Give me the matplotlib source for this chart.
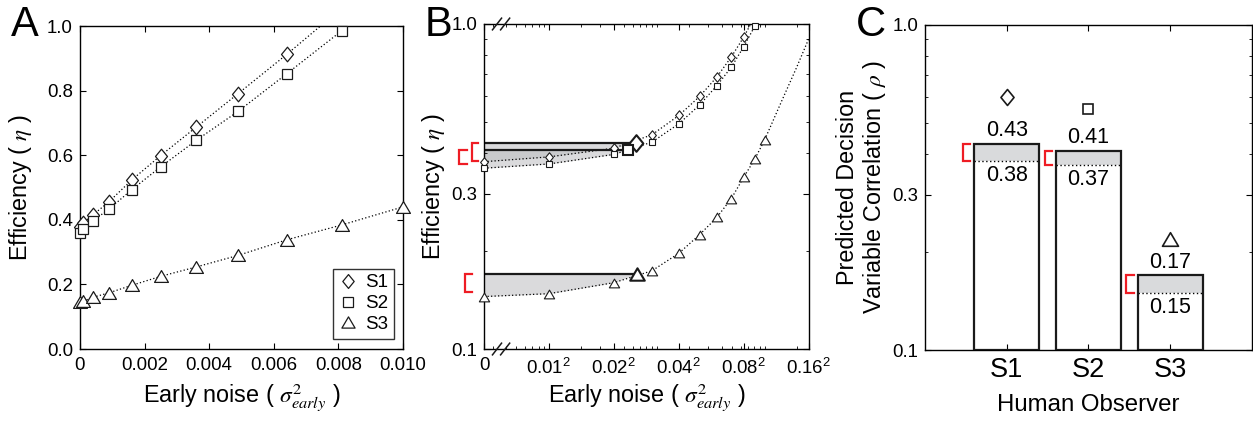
import numpy as np
import matplotlib
matplotlib.use('Agg')
import matplotlib.pyplot as plt
from matplotlib.path import Path
from matplotlib.lines import Line2D
from matplotlib.ticker import FixedLocator, FixedFormatter, NullFormatter
import matplotlib.transforms as mtransforms

# ---------------- data ----------------
observers = ['S1', 'S2', 'S3']
sigma_s1 = [0.00, 0.01, 0.02, 0.03, 0.04, 0.05, 0.06, 0.07, 0.08, 0.09]
eff_s1 = [0.377, 0.390, 0.415, 0.456, 0.523, 0.599, 0.687, 0.791, 0.912, 1.055]
sigma_s2 = [0.00, 0.01, 0.02, 0.03, 0.04, 0.05, 0.06, 0.07, 0.08, 0.09]
eff_s2 = [0.360, 0.371, 0.397, 0.433, 0.493, 0.564, 0.646, 0.736, 0.852, 0.985]
sigma_s3 = [0.00, 0.01, 0.02, 0.03, 0.04, 0.05, 0.06, 0.07, 0.08, 0.09, 0.10]
eff_s3 = [0.145, 0.148, 0.160, 0.174, 0.197, 0.225, 0.254, 0.290, 0.338, 0.384, 0.440]
sigma_s3_ext = [0.12, 0.14, 0.16]      # curve continuation (no markers) in panel B
eff_s3_ext = [0.58, 0.73, 0.90]

rho_high = [0.43, 0.41, 0.17]
rho_low = [0.38, 0.37, 0.15]
match_noise = [0.00064, 0.00054, 0.00065]
observed_rho = [0.60, 0.55, 0.22]

a_xticks = [0, 0.002, 0.004, 0.006, 0.008, 0.010]
a_xticklabels = ['0', '0.002', '0.004', '0.006', '0.008', '0.010']
a_yticks = [0.0, 0.2, 0.4, 0.6, 0.8, 1.0]
a_yticklabels = ['0.0', '0.2', '0.4', '0.6', '0.8', '1.0']
b_xtick_sigma = [0, 0.01, 0.02, 0.04, 0.08, 0.16]
b_xticklabels = ['0', r'0.01$^{\mathregular{2}}$', r'0.02$^{\mathregular{2}}$',
                 r'0.04$^{\mathregular{2}}$', r'0.08$^{\mathregular{2}}$',
                 r'0.16$^{\mathregular{2}}$']
log_yticks = [0.1, 0.3, 1.0]
log_yticklabels = ['0.1', '0.3', '1.0']

# ---------------- style ----------------
plt.rcParams['font.family'] = ['Liberation Sans', 'DejaVu Sans']
plt.rcParams['mathtext.fontset'] = 'stix'
plt.rcParams['axes.linewidth'] = 1.0
plt.rcParams['xtick.direction'] = 'in'
plt.rcParams['ytick.direction'] = 'in'
plt.rcParams['xtick.top'] = True
plt.rcParams['ytick.right'] = True
plt.rcParams['xtick.major.size'] = 4
plt.rcParams['ytick.major.size'] = 4
plt.rcParams['xtick.minor.size'] = 2.5
plt.rcParams['ytick.minor.size'] = 2.5
TICK_FS = 13.4
LABEL_FS = 16.8
plt.rcParams['xtick.labelsize'] = TICK_FS
plt.rcParams['ytick.labelsize'] = TICK_FS

DIAMOND = Path([(0, 1), (0.82, 0), (0, -1), (-0.82, 0), (0, 1)],
               [Path.MOVETO, Path.LINETO, Path.LINETO, Path.LINETO, Path.CLOSEPOLY])
TRIANGLE = Path([(-1, -0.85), (1, -0.85), (0, 0.85), (-1, -0.85)],
                [Path.MOVETO, Path.LINETO, Path.LINETO, Path.CLOSEPOLY])
markers = [DIAMOND, 's', TRIANGLE]
ms_a = [10.5, 7.2, 10.0]
ms_b = [6.8, 4.8, 7.4]
ms_b_big = [12.0, 7.4, 10.5]
ms_c = [11.5, 7.4, 11.5]
DOT = (0, (1.0, 1.8))
GRAY = '#bcbdc0'
RED = '#ee1c24'
EDGE = '#1a1a1a'

sigmas = [sigma_s1, sigma_s2, sigma_s3]
effs = [eff_s1, eff_s2, eff_s3]

fig = plt.figure(figsize=(12.53, 4.21), dpi=100)
axA = fig.add_axes([0.0638, 0.1710, 0.2578, 0.7672])
axB = fig.add_axes([0.3863, 0.1710, 0.2591, 0.7720])
axC = fig.add_axes([0.7382, 0.1675, 0.2610, 0.7743])

XLABEL = r'Early noise ( $\sigma^2_{early}$ )'

# ---------------- Panel A ----------------
for i in range(3):
    x = np.square(sigmas[i])
    y = np.asarray(effs[i])
    axA.plot(x, y, color='k', ls=DOT, lw=0.9, zorder=2)
    m = y <= 1.0
    axA.plot(x[m], y[m], ls='none', marker=markers[i], ms=ms_a[i], mfc='white',
             mec=EDGE, mew=0.9, clip_on=False, zorder=3)
axA.set_xlim(0, 0.010)
axA.set_ylim(0, 1.0)
axA.xaxis.set_major_locator(FixedLocator(a_xticks))
axA.xaxis.set_major_formatter(FixedFormatter(a_xticklabels))
axA.yaxis.set_major_locator(FixedLocator(a_yticks))
axA.yaxis.set_major_formatter(FixedFormatter(a_yticklabels))
axA.tick_params(axis='x', pad=6)
axA.tick_params(axis='y', pad=5)
axA.set_xlabel(XLABEL, fontsize=LABEL_FS)
axA.set_ylabel(r'Efficiency ( $\eta$ )', fontsize=LABEL_FS)
axA.xaxis.set_label_coords(0.5, -0.10)
axA.yaxis.set_label_coords(-0.142, 0.5)
handles = [Line2D([], [], ls='none', marker=markers[i], ms=ms_a[i] * 0.95, mfc='white',
                  mec=EDGE, mew=0.9) for i in range(3)]
leg = axA.legend(handles, observers, loc='lower right', bbox_to_anchor=(0.972, 0.032),
                 fontsize=13.5, frameon=True, fancybox=False, handlelength=1.0,
                 handletextpad=0.4, borderpad=0.3, labelspacing=0.2, borderaxespad=0)
leg.get_frame().set_edgecolor('k')
leg.get_frame().set_linewidth(1.0)

# ---------------- Panel B ----------------
X0 = 0.005 ** 2  # display position of zero noise


def fwd(x):
    return np.log10(np.maximum(x, X0))


def inv(y):
    return np.power(10.0, y)


axB.set_xscale('function', functions=(fwd, inv))
axB.set_yscale('log')
for i in range(3):
    x = np.square(sigmas[i])
    y = np.asarray(effs[i])
    xl, yl = x, y
    if i == 2:
        xl = np.concatenate([x, np.square(sigma_s3_ext)])
        yl = np.concatenate([y, eff_s3_ext])
    axB.plot(xl, yl, color='k', ls=DOT, lw=0.9, zorder=2)
    # shaded gap between matched efficiency and the curve
    sel = x < match_noise[i]
    fx = np.concatenate([x[sel], [match_noise[i]]])
    fy = np.concatenate([y[sel], [rho_high[i]]])
    axB.fill_between(fx, fy, rho_high[i], color=GRAY, alpha=0.55, lw=0, zorder=1)
    axB.plot([0, match_noise[i]], [rho_high[i], rho_high[i]], color=EDGE, lw=1.6,
             solid_capstyle='butt', zorder=2.5)
    m = y <= 1.0
    axB.plot(x[m], y[m], ls='none', marker=markers[i], ms=ms_b[i], mfc='white',
             mec=EDGE, mew=0.8, clip_on=False, zorder=3)
    axB.plot([match_noise[i]], [rho_high[i]], ls='none', marker=markers[i], ms=ms_b_big[i],
             mfc='white', mec=EDGE, mew=1.5, zorder=4)

axB.set_xlim(0, 0.16 ** 2)
axB.set_ylim(0.1, 1.0)
axB.xaxis.set_major_locator(FixedLocator(np.square(b_xtick_sigma)))
axB.xaxis.set_major_formatter(FixedFormatter(b_xticklabels))
minor_x = [k * 10.0 ** e for e in range(-5, -1) for k in range(1, 10)
           if X0 < k * 10.0 ** e < 0.16 ** 2]
axB.xaxis.set_minor_locator(FixedLocator(minor_x))
axB.xaxis.set_minor_formatter(NullFormatter())
axB.yaxis.set_major_locator(FixedLocator(log_yticks))
axB.yaxis.set_major_formatter(FixedFormatter(log_yticklabels))
axB.yaxis.set_minor_locator(FixedLocator([0.2, 0.4, 0.5, 0.6, 0.7, 0.8, 0.9]))
axB.yaxis.set_minor_formatter(NullFormatter())
axB.tick_params(axis='x', which='both', pad=6)
axB.tick_params(axis='y', pad=5)
axB.set_xlabel(XLABEL, fontsize=LABEL_FS)
axB.set_ylabel(r'Efficiency ( $\eta$ )', fontsize=LABEL_FS)
axB.xaxis.set_label_coords(0.5, -0.10)
axB.yaxis.set_label_coords(-0.114, 0.5)

# axis-break marks
for yb in (0.0, 1.0):
    for xb in (0.040, 0.065):
        axB.plot([xb - 0.014, xb + 0.014], [yb - 0.018, yb + 0.018], color=EDGE, lw=1.1,
                 transform=axB.transAxes, clip_on=False, zorder=5)

# red brackets (left of y axis)
tB = mtransforms.blended_transform_factory(axB.transAxes, axB.transData)
b_offsets = [(-0.037, -0.018), (-0.077, -0.053), (-0.058, -0.037)]
for i in range(3):
    xv, xe = b_offsets[i]
    axB.plot([xe, xv, xv, xe], [rho_high[i], rho_high[i], rho_low[i], rho_low[i]],
             color=RED, lw=1.6, transform=tB, clip_on=False, solid_joinstyle='miter')

# ---------------- Panel C ----------------
axC.set_yscale('log')
xc = np.arange(1, len(observers) + 1)
hi = np.asarray(rho_high)
lo = np.asarray(rho_low)
bw = 0.8
axC.bar(xc, hi - lo, bottom=lo, width=bw, color='#d9dadc', lw=0, zorder=1)
axC.bar(xc, hi - 0.1, bottom=0.1, width=bw, facecolor='none', edgecolor=EDGE, lw=1.6,
        zorder=3)
axC.hlines(lo, xc - bw / 2, xc + bw / 2, colors='k', linestyles=DOT, lw=1.0, zorder=2)
for i in range(3):
    axC.annotate(f'{rho_high[i]:.2f}', (xc[i], rho_high[i]), xytext=(0, 2),
                 textcoords='offset points', ha='center', va='bottom', fontsize=15.5)
    axC.annotate(f'{rho_low[i]:.2f}', (xc[i], rho_low[i]), xytext=(0, -2.5),
                 textcoords='offset points', ha='center', va='top', fontsize=15.5)
    axC.plot([xc[i]], [observed_rho[i]], ls='none', marker=markers[i], ms=ms_c[i],
             mfc='white', mec=EDGE, mew=1.2, zorder=4)
    xv = xc[i] - bw / 2 - 0.135
    xe = xc[i] - bw / 2 - 0.045
    axC.plot([xe, xv, xv, xe], [rho_high[i], rho_high[i], rho_low[i], rho_low[i]],
             color=RED, lw=1.6, clip_on=False, solid_joinstyle='miter')
axC.set_xlim(0, 4)
axC.set_ylim(0.1, 1.0)
axC.xaxis.set_major_locator(FixedLocator(xc))
axC.xaxis.set_major_formatter(FixedFormatter(observers))
axC.yaxis.set_major_locator(FixedLocator(log_yticks))
axC.yaxis.set_major_formatter(FixedFormatter(log_yticklabels))
axC.yaxis.set_minor_locator(FixedLocator([0.2, 0.4, 0.5, 0.6, 0.7, 0.8, 0.9]))
axC.yaxis.set_minor_formatter(NullFormatter())
axC.tick_params(axis='x', labelsize=19.5, pad=5)
axC.tick_params(axis='y', pad=5)
axC.set_xlabel('Human Observer', fontsize=17.3)
axC.xaxis.set_label_coords(0.5, -0.135)
axC.set_ylabel('Predicted Decision\nVariable Correlation ( $\\rho$ )', fontsize=LABEL_FS,
               multialignment='center', linespacing=1.1)
axC.yaxis.set_label_coords(-0.113, 0.5)

# panel letters
fig.text(0.009, 0.915, 'A', fontsize=30)
fig.text(0.339, 0.915, 'B', fontsize=30)
fig.text(0.683, 0.915, 'C', fontsize=30)

fig.savefig('out.png', dpi=100)
